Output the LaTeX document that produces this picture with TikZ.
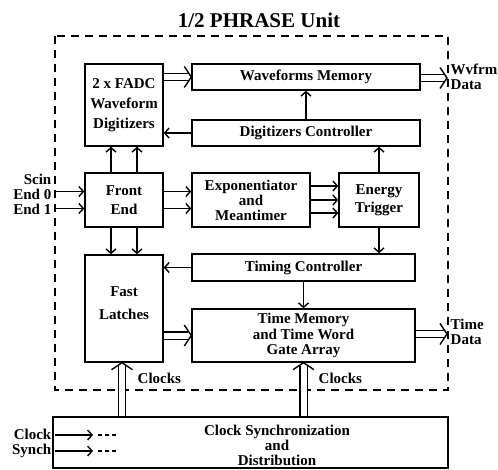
\documentclass[tikz,border=0pt]{standalone}
\usepackage{fontspec}
\setmainfont{Liberation Serif}
\usetikzlibrary{positioning}
\usetikzlibrary{arrows.meta}
\usetikzlibrary{decorations.markings}

\begin{document}
\begin{tikzpicture}[
  x=1pt, y=-1pt,
  line width=1.4pt,
  every node/.style={font=\fontsize{15}{15}\selectfont\bfseries},
  box/.style={draw, line width=1.4pt, inner sep=2pt, align=center},
  lbl/.style={inner sep=1pt},
  dbl/.style={double, double distance=6pt, line width=1.2pt, shorten >=3pt,
    decoration={markings, mark=at position 1 with {
      \draw[line width=1.4pt, shorten >=0pt, miter limit=20] (-7pt,10.5pt) -- (0pt,0pt) -- (-7pt,-10.5pt);}},
    postaction={decorate}},
  frame/.style={line width=1.3pt, dash pattern=on 8pt off 6pt},
  >={Straight Barb[length=4.5pt,width=10pt]}
]
\useasboundingbox (0,0) rectangle (498,469);

\node[font=\fontsize{21}{24}\selectfont\bfseries] (title) at (259,20) {1/2 PHRASE Unit};
\draw[frame] (55,36) rectangle (448,390);

\node[box, minimum width=78pt, minimum height=82pt] (fadc) at (124,105) {2 x FADC\\[5pt]Waveform\\[5pt]Digitizers};
\node[box, minimum width=228pt, minimum height=26pt] (wm) at (306,77) {Waveforms Memory};
\node[box, minimum width=228pt, minimum height=26pt] (dc) at (306,133) {Digitizers Controller};
\node[box, minimum width=78pt, minimum height=54pt] (fe) at (124,200) {Front\\[4pt]End};
\node[box, minimum width=118pt, minimum height=54pt] (exp) at (251,200) {Exponentiator\\and\\Meantimer};
\node[box, minimum width=80pt, minimum height=54pt] (et) at (379,200) {Energy\\[3pt]Trigger};
\node[box, minimum width=78pt, minimum height=107pt] (fl) at (124,308.5) {Fast\\[8pt]Latches\\[-5pt]\mbox{}};
\node[box, minimum width=223pt, minimum height=27pt] (tc) at (303.5,267.5) {Timing Controller};
\node[box, minimum width=223pt, minimum height=53pt] (tm) at (303.5,335.5) {Time Memory\\[0.5pt]and Time Word\\[0.5pt]Gate Array};
\node[box, minimum width=395pt, minimum height=51pt] (cs) at (250.5,442.5) {};
\node[lbl, align=center] (cstext) at (277,445) {Clock Synchronization\\and\\Distribution};

\draw[dbl] (fadc.east |- wm) -- (wm.west);
\draw[->] (dc.west) -- (dc.west -| fadc.east);
\draw[->] (dc.north) -- (wm.south);
\draw[->] (et.north) -- (et.north |- dc.south);
\foreach \dx in {-13,13} {
  \draw[->] ([xshift=\dx pt]fe.north) -- ([xshift=\dx pt]fe.north |- fadc.south);
  \draw[->] ([xshift=\dx pt]fe.south) -- ([xshift=\dx pt]fe.south |- fl.north);
}
\foreach \dy in {8.5,-8.5}
  \draw[->] ([yshift=\dy pt]fe.east) -- ([yshift=\dy pt]fe.east -| exp.west);
\foreach \dy in {14,0,-13}
  \draw[->] ([yshift=\dy pt]exp.east) -- ([yshift=\dy pt]exp.east -| et.west);
\draw[->] (et.south) -- (et.south |- tc.north);
\draw[->] (tc.west) -- (tc.west -| fl.east);
\draw[->] (tc.south) -- (tm.north);
\draw[dbl] (fl.east |- tm) -- (tm.west);

\coordinate (wvout) at (447,78);
\coordinate (tdout) at (447,334);
\draw[dbl] (wm.east |- wvout) -- (wvout);
\draw[dbl] (tm.east |- tdout) -- (tdout);
\node[lbl, align=left, anchor=west] (wvlbl) at (449,77) {Wvfrm\\Data};
\node[lbl, align=left, anchor=west] (tdlbl) at (449,332) {Time\\Data};

\draw[dbl] ([xshift=-2pt]fl.south |- cs.north) -- ([xshift=-2pt]fl.south);
\draw[dbl] (tm.south |- cs.north) -- (tm.south);
\node[lbl, anchor=west] (clk1) at (136,378) {Clocks};
\node[lbl, anchor=west] (clk2) at (317,378) {Clocks};

\coordinate (in0) at (55,191.5);
\coordinate (in1) at (55,208.5);
\draw[->] (in0) -- (in0 -| fe.west);
\draw[->] (in1) -- (in1 -| fe.west);
\node[lbl, align=right, anchor=east] (scin) at (53,194) {Scin\\End 0\\End 1};

\coordinate (cka) at (55,435);
\coordinate (ckb) at (93,435);
\coordinate (sya) at (55,451);
\coordinate (syb) at (93,451);
\draw[->] (cka) -- (ckb);
\draw[->] (sya) -- (syb);
\draw[dash pattern=on 4pt off 3pt] ([xshift=5pt]ckb) -- ([xshift=25pt]ckb);
\draw[dash pattern=on 4pt off 3pt] ([xshift=5pt]syb) -- ([xshift=25pt]syb);
\node[lbl, align=right, anchor=east] (clksyn) at (53,443) {Clock\\Synch};
\end{tikzpicture}
\end{document}
